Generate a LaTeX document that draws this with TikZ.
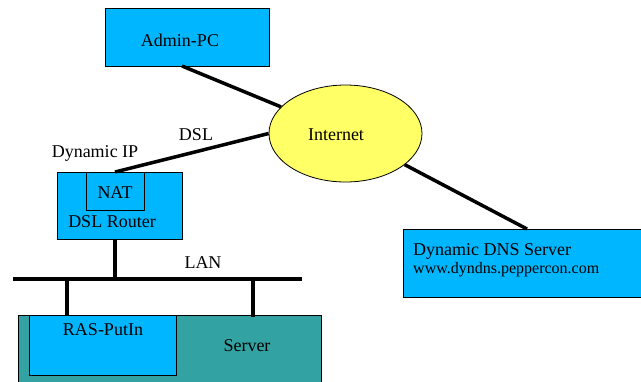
\documentclass[tikz,border=0pt]{standalone}
\usepackage{fontspec}
\setmainfont{Liberation Serif}
\usetikzlibrary{shapes.geometric}
\definecolor{boxblue}{RGB}{0,183,255}
\definecolor{teal2}{RGB}{51,162,162}
\definecolor{inetyellow}{RGB}{255,255,102}
\tikzset{
  dev/.style={draw=black, line width=0.8pt, fill=boxblue, inner sep=0pt},
  link/.style={line width=3.5pt, line cap=butt},
  lbl/.style={font=\fontsize{18}{20}\selectfont, inner sep=0pt},
}
\begin{document}
\begin{tikzpicture}[x=1pt,y=-1pt]
\useasboundingbox (0,0) rectangle (641,381);
% Server (teal)
\node[draw=black, line width=0.8pt, fill=teal2, minimum width=303pt, minimum height=70pt, anchor=north west, inner sep=0pt] (server) at (18,315) {};
\node[lbl] (serverlbl) at (247,346) {Server};
% RAS-PutIn
\node[dev, minimum width=147pt, minimum height=60pt, anchor=north west] (ras) at (29,315) {};
\node[lbl] (raslbl) at (103,330) {RAS-PutIn};
% Admin PC
\node[dev, minimum width=164pt, minimum height=58pt, anchor=north west] (admin) at (105,8) {};
\node[lbl] (adminlbl) at (180,40) {Admin-PC};
% Internet
\node[ellipse, draw=black, line width=0.8pt, fill=inetyellow, minimum width=153pt, minimum height=97pt, inner sep=0pt] (inet) at (345.5,133.5) {};
\node[lbl] (inetlbl) at (336,135) {Internet};
% DSL Router
\node[dev, minimum width=125pt, minimum height=67pt, anchor=north west] (router) at (57,172) {};
\node[draw=black, line width=0.8pt, minimum width=58pt, minimum height=38pt, anchor=north west, inner sep=0pt] (nat) at (86,172) {};
\node[lbl] (natlbl) at (115,193) {NAT};
\node[lbl] (routerlbl) at (112,222) {DSL Router};
% DNS server
\node[dev, minimum width=240pt, minimum height=68pt, anchor=north west] (dns) at (403,229) {};
\node[lbl, anchor=west] (dnslbl) at (413,251) {Dynamic DNS Server};
\node[font=\fontsize{16}{18}\selectfont, inner sep=0pt, anchor=west] (urllbl) at (413,270) {www.dyndns.peppercon.com};
% labels
\node[lbl] (dsllbl) at (196,135) {DSL};
\node[lbl] (diplbl) at (95,153) {Dynamic IP};
\node[lbl] (lanlbl) at (203,263) {LAN};
% coordinates
\coordinate (adminB) at (182,66);
\coordinate (natT) at (115,172);
\coordinate (dnsT) at (527,229);
\coordinate (lanL) at (13,279);
\coordinate (lanR) at (302,279);
\coordinate (rtrB) at (115,239);
\coordinate (rtrL) at (115,279);
\coordinate (d1a) at (67,279);
\coordinate (d1b) at (67,315);
\coordinate (d2a) at (253,279);
\coordinate (d2b) at (253,317);
% links
\draw[link] (adminB) -- (inet);
\draw[link] (natT) -- (inet.west);
\draw[link] (inet) -- (dnsT);
\draw[link] (lanL) -- (lanR);
\draw[link] (rtrB) -- (rtrL);
\draw[link] (d1a) -- (d1b);
\draw[link] (d2a) -- (d2b);
\end{tikzpicture}
\end{document}
